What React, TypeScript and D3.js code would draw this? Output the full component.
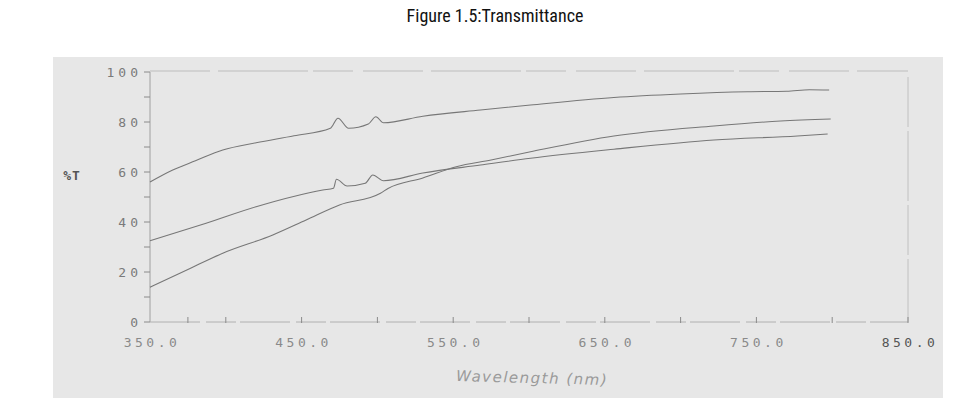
import React from "react";
import * as d3 from "d3";

const title = "Figure 1.5:Transmittance";
const xTickLabels = [350, 450, 550, 650, 750, 850];
const xMinorTicks = [375, 400, 450, 500, 550, 600, 650, 700, 750, 800, 850];
const yTickLabels = [0, 20, 40, 60, 80, 100];
const yMinorTicks = [10, 30, 50, 70, 90];

const topWl = [350, 365, 380, 398, 420, 445, 469, 474, 481, 494, 499, 504, 530, 568, 601, 656, 700, 744, 770, 785, 798];
const topT = [56, 60.8, 64.5, 68.8, 71.7, 74.5, 77.5, 81.5, 77.5, 79.2, 82.1, 79.7, 82.3, 84.8, 86.8, 89.8, 91.2, 92.1, 92.3, 92.9, 92.8];

const midWl = [350, 387, 420, 464, 471, 473, 480, 492, 497, 504, 530, 568, 601, 656, 722, 777, 797];
const midT = [32.5, 39.5, 46.1, 52.8, 53.5, 57.1, 54.4, 55.5, 58.8, 56.5, 59.6, 62.8, 65.5, 69.1, 72.8, 74.4, 75.2];

const lowWl = [350, 375, 398, 431, 453, 475, 502, 507, 530, 552, 575, 601, 656, 722, 766, 799];
const lowT = [13.9, 21, 27.5, 34.8, 40.8, 46.8, 51.5, 53.4, 57.6, 62.1, 64.8, 68.1, 74.4, 78.4, 80.4, 81.2];

const series = [
  { wl: topWl, t: topT },
  { wl: midWl, t: midT },
  { wl: lowWl, t: lowT },
];

export default function App() {
  const W = 966, H = 404;
  const x = d3.scaleLinear().domain([350, 850]).range([150, 908]);
  const y = d3.scaleLinear().domain([0, 100]).range([322, 72]);
  const line = d3.line<[number, number]>().x(d => x(d[0])).y(d => y(d[1])).curve(d3.curveMonotoneX);
  const labelFont = "'DejaVu Sans Mono', 'Liberation Mono', monospace";
  return (
    <svg width={W} height={H} style={{ position: "absolute", left: 0, top: 0, background: "#fff" }}>
      <text x={495} y={22} textAnchor="middle" fontFamily="'Liberation Sans Narrow', 'Roboto Condensed', 'Liberation Sans', sans-serif" fontSize={18} fill="#111">{title}</text>
      <rect x={53} y={57} width={890} height={341} fill="#e7e7e7" />
      {/* frame */}
      <line x1={x(350)} x2={x(850)} y1={y(100) - 1} y2={y(100) - 1} stroke="#bdbdbd" strokeWidth={1} strokeDasharray="60 8 90 5 40 10" />
      <line x1={x(850)} x2={x(850)} y1={y(98)} y2={y(0)} stroke="#c0c0c0" strokeWidth={1} strokeDasharray="50 4 70 4" />
      <line x1={x(350)} x2={x(350)} y1={y(100)} y2={y(0)} stroke="#a0a0a0" strokeWidth={1} />
      <line x1={x(350)} x2={x(850)} y1={y(0)} y2={y(0)} stroke="#b0b0b0" strokeWidth={1} strokeDasharray="50 6 30 4" />
      {yTickLabels.map(v => (
        <g key={"yt" + v}>
          <line x1={x(350) - 6} x2={x(350)} y1={y(v)} y2={y(v)} stroke="#8a8a8a" />
          <text x={x(350) - 8} y={y(v) + 5} textAnchor="end" fontFamily={labelFont} fontSize={13} letterSpacing={4} fill="#7a7a7a">{v}</text>
        </g>
      ))}
      {yMinorTicks.map(v => (
        <line key={"ym" + v} x1={x(350) - 6} x2={x(350)} y1={y(v)} y2={y(v)} stroke="#8a8a8a" />
      ))}
      {xMinorTicks.map(v => (
        <line key={"xm" + v} x1={x(v)} x2={x(v)} y1={y(0) - 5} y2={y(0) + 1} stroke="#8a8a8a" />
      ))}
      {xTickLabels.map(v => (
        <text key={"xl" + v} x={x(v) + 2} y={347} textAnchor="middle" fontFamily={labelFont} fontSize={13} letterSpacing={3.5} fill={v === 850 ? "#555" : "#8a8a8a"}>{v.toFixed(1)}</text>
      ))}
      <text x={72} y={180} textAnchor="middle" fontFamily={labelFont} fontSize={13} fontWeight="bold" letterSpacing={1} fill="#555">%T</text>
      <text x={532} y={383} textAnchor="middle" fontFamily="'DejaVu Sans', sans-serif" fontStyle="italic" fontSize={15} letterSpacing={1.5} fill="#9a9a9a" transform="rotate(1.5 532 383)">Wavelength (nm)</text>
      {series.map((s, i) => (
        <path key={"s" + i} d={line(s.wl.map((w, j) => [w, s.t[j]] as [number, number])) || ""} fill="none" stroke="#777" strokeWidth={1.1} />
      ))}
    </svg>
  );
}
